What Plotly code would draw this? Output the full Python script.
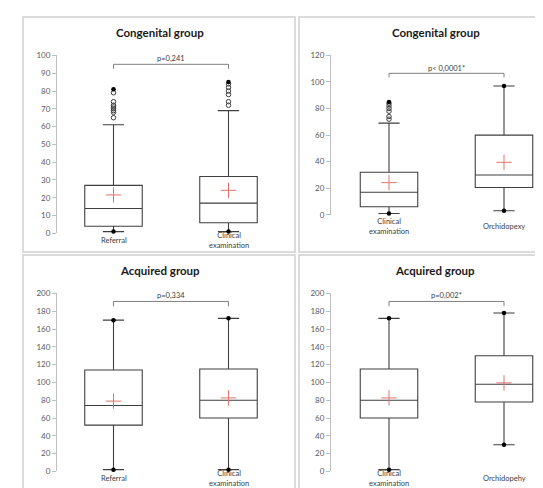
import plotly.graph_objects as go

W, H = 543, 488

# ---------------- data ----------------
group_names = ["Referral", "Clinical<br>examination", "Orchidopexy",
               "Referral", "Clinical<br>examination", "Orchidopehy"]
q1_vals = [4, 6, 20.5, 52, 60, 78]
median_vals = [14, 17, 30, 74, 80, 98]
q3_vals = [27, 32, 60, 114, 115, 130]
lower_whisker = [1, 1, 3, 2, 2, 30]
upper_whisker = [61, 69, 97, 170, 172, 178]
mean_vals = [21.6, 24.2, 39.5, 79, 82.6, 99.5]
min_vals = [1, 1, 3, 2, 2, 30]
max_vals = [81, 85, 97, 170, 172, 178]
outliers = [[65, 68, 69, 70, 71, 72, 74, 79],
            [72, 74, 78, 80, 82, 84],
            [], [], [], []]

panel_titles = ["Congenital group", "Congenital group", "Acquired group", "Acquired group"]
panel_groups = [(0, 1), (1, 2), (3, 4), (4, 5)]
p_labels = ["p=0,241", "p< 0,0001*", "p=0,334", "p=0,002*"]
y_max = [100, 120, 200, 200]
y_dtick = [10, 20, 20, 20]
bracket_top = [95, 106.5, 191, 191]
bracket_drop = [92.5, 103.5, 185.5, 185.5]
p_label_y = [98.5, 110.5, 197.5, 197.5]

# ---------------- layout geometry (pixels) ----------------
geom = [
    dict(L=49, c0=105.5, c1=220.5, R=278, top=43.3, bot=225, lab=232.5, tx=152, ty=20),
    dict(L=323, c0=381, c1=496, R=541, top=43.3, bot=206, lab=218, tx=428, ty=20),
    dict(L=49, c0=105.5, c1=220.5, R=278, top=286.3, bot=468, lab=475.5, tx=152, ty=263),
    dict(L=323, c0=381, c1=496, R=541, top=286.3, bot=468, lab=475.5, tx=427, ty=263),
]
frames = [(15, 4, 287, 244), (291, 4, 546, 244), (15, 247, 287, 487), (291, 247, 546, 487)]

BOX_COLOR = "#3f3f3f"
AXIS_COLOR = "#bfbfbf"
TICK_FONT = "#595959"
FONT = "Lato, Liberation Sans, Arial, sans-serif"


def px_x(p):
    return p / W


def px_y(p):
    return 1 - p / H


fig = go.Figure()
layout = dict(
    width=W, height=H, margin=dict(l=0, r=0, t=0, b=0),
    paper_bgcolor="white", plot_bgcolor="white", showlegend=False,
    font=dict(family=FONT, color=TICK_FONT, size=8),
    boxmode="overlay",
)
annotations = []
shapes = []

for i in range(4):
    g = geom[i]
    sfx = "" if i == 0 else str(i + 1)
    xa, ya = "x" + sfx, "y" + sfx
    u = g["c1"] - g["c0"]
    xr = [(g["L"] - g["c0"]) / u, (g["R"] - g["c0"]) / u]
    layout["xaxis" + sfx] = dict(
        domain=[px_x(g["L"]), px_x(g["R"])], range=xr, anchor=ya,
        showgrid=False, zeroline=False, showline=False, showticklabels=False, ticks="",
    )
    layout["yaxis" + sfx] = dict(
        domain=[px_y(g["bot"]), px_y(g["top"])], range=[0, y_max[i]], anchor=xa,
        dtick=y_dtick[i], showgrid=False, zeroline=False, showline=True,
        linecolor=AXIS_COLOR, linewidth=1, ticks="outside", ticklen=4,
        tickcolor=AXIS_COLOR, tickfont=dict(size=8, color=TICK_FONT, family=FONT),
    )

    for pos, gi in enumerate(panel_groups[i]):
        fig.add_trace(go.Box(
            x=[pos], q1=[q1_vals[gi]], median=[median_vals[gi]], q3=[q3_vals[gi]],
            lowerfence=[lower_whisker[gi]], upperfence=[upper_whisker[gi]],
            width=0.5, whiskerwidth=0.37, boxpoints=False,
            line=dict(color=BOX_COLOR, width=1.1), fillcolor="rgba(0,0,0,0)",
            xaxis=xa, yaxis=ya, hoverinfo="skip",
        ))
        fig.add_trace(go.Scatter(
            x=[pos], y=[mean_vals[gi]], mode="markers", xaxis=xa, yaxis=ya,
            marker=dict(symbol="cross-thin", size=11, line=dict(color="#e0736f", width=1)),
            cliponaxis=False, hoverinfo="skip",
        ))
        if outliers[gi]:
            fig.add_trace(go.Scatter(
                x=[pos] * len(outliers[gi]), y=outliers[gi], mode="markers",
                xaxis=xa, yaxis=ya, cliponaxis=False, hoverinfo="skip",
                marker=dict(symbol="circle-open", size=4.5, color=BOX_COLOR, line=dict(width=1)),
            ))
        fig.add_trace(go.Scatter(
            x=[pos, pos], y=[min_vals[gi], max_vals[gi]], mode="markers",
            xaxis=xa, yaxis=ya, cliponaxis=False, hoverinfo="skip",
            marker=dict(symbol="circle", size=4.5, color="black"),
        ))
        annotations.append(dict(
            x=pos, xref=xa, y=px_y(g["lab"]), yref="paper", text=group_names[gi],
            showarrow=False, xanchor="center", yanchor="middle",
            font=dict(size=7.5, color="#404040", family=FONT),
        ))

    fig.add_trace(go.Scatter(
        x=[0, 0, 1, 1], y=[bracket_drop[i], bracket_top[i], bracket_top[i], bracket_drop[i]],
        mode="lines", xaxis=xa, yaxis=ya, cliponaxis=False, hoverinfo="skip",
        line=dict(color="#7f7f7f", width=1),
    ))
    annotations.append(dict(
        x=0.5, xref=xa, y=p_label_y[i], yref=ya, text=p_labels[i], showarrow=False,
        xanchor="center", yanchor="middle", font=dict(size=7.5, color="#404040", family=FONT),
    ))
    annotations.append(dict(
        x=px_x(g["tx"]), xref="paper", y=px_y(g["ty"]), yref="paper",
        text="<b>" + panel_titles[i] + "</b>", showarrow=False,
        xanchor="center", yanchor="middle", font=dict(size=11.5, color="#1a1a1a", family=FONT),
    ))
    x0, y0, x1, y1 = frames[i]
    shapes.append(dict(
        type="rect", xref="paper", yref="paper",
        x0=px_x(x0), x1=px_x(x1), y0=px_y(y1), y1=px_y(y0),
        line=dict(color="#d0d0d0", width=1.5), fillcolor="rgba(0,0,0,0)", layer="below",
    ))

layout["annotations"] = annotations
layout["shapes"] = shapes
fig.update_layout(**layout)
fig.write_html("out.html")
